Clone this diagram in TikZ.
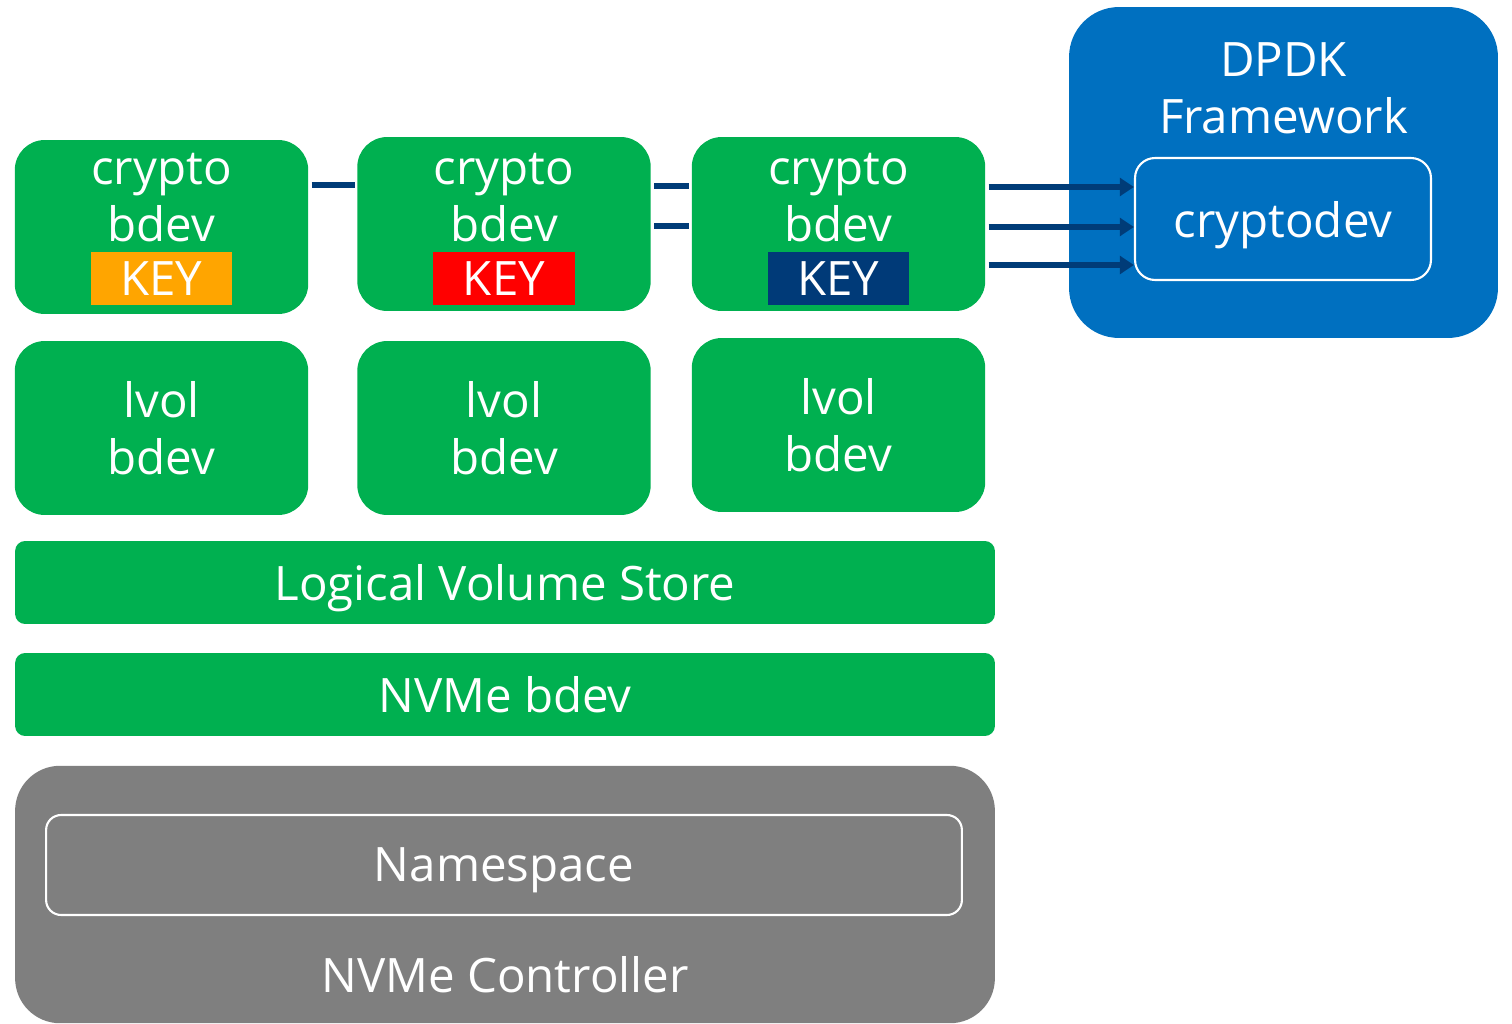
\documentclass[tikz,border=0pt]{standalone}
\usepackage{fontspec}
\setmainfont{Open Sans}
\usetikzlibrary{positioning,arrows.meta}
\definecolor{boxgreen}{HTML}{00B050}
\definecolor{ctrlgray}{HTML}{7F7F7F}
\definecolor{dpdkblue}{HTML}{0070C0}
\definecolor{keyorange}{HTML}{FFA500}
\definecolor{keyred}{HTML}{FF0000}
\definecolor{keynavy}{HTML}{003A78}
\definecolor{linkblue}{HTML}{003C78}
\begin{document}
\begin{tikzpicture}[x=0.02cm, y=-0.02cm,
    font=\fontsize{27}{32.5}\selectfont,
    blockbox/.style={rectangle, fill=boxgreen, text=white, rounded corners=0.6cm,
      minimum width=5.87cm, minimum height=3.48cm, align=center, inner sep=0pt},
    bar/.style={rectangle, fill=boxgreen, text=white, rounded corners=0.2cm,
      minimum width=19.6cm, minimum height=1.66cm, inner sep=0pt, text depth=0pt},
    keybox/.style={rectangle, text=white, minimum width=2.84cm, minimum height=1.06cm, inner sep=0pt},
    whitetext/.style={text=white, align=center, inner sep=0pt},
    framebox/.style={rectangle, draw=white, line width=1.2pt, text=white, inner sep=0pt, text depth=0pt},
    link/.style={draw=linkblue, line width=3.2pt, shorten <=0.06cm, shorten >=0.04cm},
    flow/.style={link, -{Triangle[length=8pt, width=10pt]}, shorten >=0pt}]
    \useasboundingbox (0,0) rectangle (1512,1024);

    % crypto bdevs
    \node (cb1) at (161.5, 227) [blockbox] {};
    \node (cb2) at (504, 224) [blockbox] {};
    \node (cb3) at (838.5, 224) [blockbox] {};
    \node (key1) [keybox, fill=keyorange, above=0.18cm of cb1.south] {KEY};
    \node (key2) [keybox, fill=keyred, above=0.12cm of cb2.south] {KEY};
    \node (key3) [keybox, fill=keynavy, above=0.12cm of cb3.south] {KEY};
    \node (cb1t) [whitetext, above=0.18cm of key1] {crypto\\bdev};
    \node (cb2t) [whitetext, above=0.18cm of key2] {crypto\\bdev};
    \node (cb3t) [whitetext, above=0.18cm of key3] {crypto\\bdev};

    % lvol bdevs
    \node (lv1) at (161.5, 428) [blockbox] {lvol\\bdev};
    \node (lv2) at (504, 428) [blockbox] {lvol\\bdev};
    \node (lv3) at (838.5, 425) [blockbox] {lvol\\bdev};

    \node (lvs) at (505, 582.5) [bar] {Logical Volume Store};
    \node (nvb) at (505, 694.5) [bar] {NVMe bdev};

    % controller
    \node (ctrl) at (505, 894.5) [rectangle, fill=ctrlgray, rounded corners=0.9cm,
      minimum width=19.6cm, minimum height=5.15cm] {};
    \node (ns) at (504, 865) [framebox, rounded corners=0.3cm,
      minimum width=18.32cm, minimum height=2cm] {Namespace};
    \node (ctrlt) [whitetext, above=0.6cm of ctrl.south] {NVMe Controller};

    % DPDK
    \node (dp) at (1283.5, 172.5) [rectangle, fill=dpdkblue, rounded corners=1cm,
      minimum width=8.58cm, minimum height=6.62cm] {};
    \node (dpt) [whitetext, below=0.72cm of dp.north] {DPDK\\Framework};
    \node (cd) at (1283, 219) [framebox, rounded corners=0.4cm,
      minimum width=5.92cm, minimum height=2.44cm] {cryptodev};

    \draw[link] (cb1.east |- 0,185) -- (cb2.west |- 0,185);
    \draw[link] (cb2.east |- 0,186) -- (cb3.west |- 0,186);
    \draw[link] (cb2.east |- 0,226) -- (cb3.west |- 0,226);
    \draw[flow] (cb3.east |- 0,187) -- (cd.west |- 0,187);
    \draw[flow] (cb3.east |- 0,227) -- (cd.west |- 0,227);
    \draw[flow] (cb3.east |- 0,265) -- (cd.west |- 0,265);
\end{tikzpicture}
\end{document}
